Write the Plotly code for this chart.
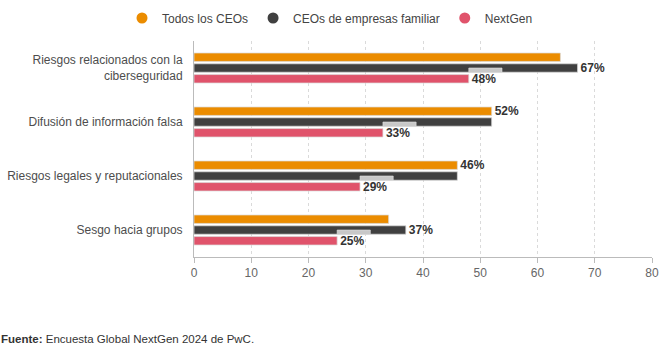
import plotly.graph_objects as go

categories = [
    "Riesgos relacionados con la<br>ciberseguridad",
    "Difusión de información falsa",
    "Riesgos legales y reputacionales",
    "Sesgo hacia grupos",
]
series_names = ["Todos los CEOs", "CEOs de empresas familiar", "NextGen"]
todos_ceos = [64, 52, 46, 34]
ceos_familiar = [67, 52, 46, 37]
nextgen = [48, 33, 29, 25]
x_ticks = [0, 10, 20, 30, 40, 50, 60, 70, 80]

colors = ["#EB8C00", "#404040", "#E0536B"]
values = [todos_ceos, ceos_familiar, nextgen]

# labels: top value of the two CEO series shown on the bar reaching it (orange wins ties)
def labels_for(series_idx):
    out = []
    for i in range(len(categories)):
        if series_idx == 2:
            out.append(f"{nextgen[i]}%")
        else:
            top = max(todos_ceos[i], ceos_familiar[i])
            owner = 0 if todos_ceos[i] >= ceos_familiar[i] else 1
            out.append(f"{top}%" if owner == series_idx else "")
    return out

fig = go.Figure()
for k in range(3):
    fig.add_trace(go.Bar(
        y=categories, x=values[k], orientation="h", name=series_names[k],
        marker=dict(color=colors[k], line=dict(color="rgba(220,220,220,0.9)", width=0.8)),
        text=labels_for(k), textposition="outside", constraintext="none",
        textfont=dict(size=12, color="#333333", family="Liberation Sans, Arial", weight="bold"),
        cliponaxis=False, showlegend=False, hoverinfo="skip",
    ))
    fig.add_trace(go.Scatter(
        x=[None], y=[None], mode="markers", name=series_names[k],
        marker=dict(color=colors[k], size=11, symbol="circle"),
        showlegend=True,
    ))

# small light-grey label-background artifacts next to the NextGen bar ends
bargap = 0.4
slot = (1 - bargap) / 3
for i, v in enumerate(nextgen):
    fig.add_shape(type="rect", xref="x", yref="y",
                  x0=v, x1=v + 5.8, y0=i + 0.0, y1=i + slot * 0.42,
                  fillcolor="#C8C8C8", line=dict(color="#E0E0E0", width=0.6), layer="above")

fig.update_layout(
    width=660, height=353,
    margin=dict(l=194, r=8, t=41, b=96, autoexpand=False),
    barmode="group", bargap=bargap, bargroupgap=0.22,
    plot_bgcolor="white", paper_bgcolor="white",
    font=dict(family="Liberation Sans, Arial", size=12, color="#444444"),
    legend=dict(orientation="h", xref="container", yref="container",
                x=0.5, y=0.949, xanchor="center", yanchor="middle",
                font=dict(size=12, color="#444444"), itemclick=False),
    xaxis=dict(range=[0, 80], tickvals=x_ticks, ticktext=[str(t) for t in x_ticks],
               showgrid=True, gridcolor="#DADADA", griddash="dot", gridwidth=1,
               showline=True, linecolor="#BBBBBB", linewidth=1,
               ticks="outside", ticklen=5, tickcolor="#BBBBBB", automargin=False,
               tickfont=dict(size=12, color="#666666"), zeroline=False, fixedrange=True),
    yaxis=dict(autorange="reversed", showline=True, linecolor="#BBBBBB", linewidth=1,
               ticks="", ticklabelstandoff=8, showgrid=False, automargin=False,
               tickfont=dict(size=12, color="#4D4D4D"), fixedrange=True),
    annotations=[dict(
        xref="paper", yref="paper", x=-195 / 458, y=(257 - 339) / 216,
        xanchor="left", yanchor="middle", showarrow=False, align="left",
        text="<b>Fuente:</b> Encuesta Global NextGen 2024 de PwC.",
        font=dict(size=11.5, color="#333333"),
    )],
)

fig.write_html("out.html")
